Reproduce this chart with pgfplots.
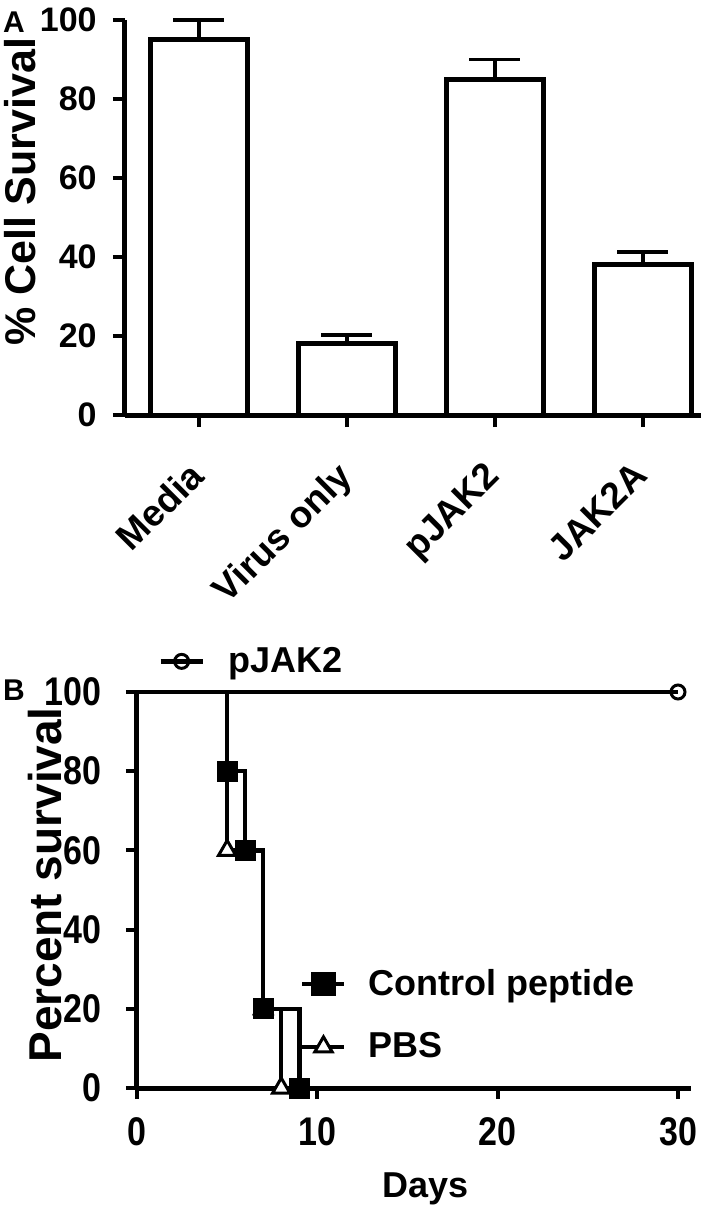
\documentclass[border=0pt]{standalone}
\usepackage{fontspec}
\setmainfont{Liberation Sans}
\newfontfamily\condbold[FakeStretch=0.85, UprightFont={* Bold}]{Liberation Sans}
\usepackage{pgfplots}
\pgfplotsset{compat=1.18}

\pgfplotsset{
  gp/.style={
    scale only axis,
    axis x line=bottom, axis y line=left,
    axis line style={-, line width=2.5pt, black},
    tick align=outside,
    major tick length=6pt,
    tick style={line width=2pt, black},
    /pgf/number format/assume math mode=true,
    clip=false,
  },
}

\begin{document}
\begin{tikzpicture}[x=1pt,y=1pt]
\useasboundingbox (0,0) rectangle (354,-603);

% ---- panel A: bars with upper error bars
\begin{axis}[gp,
  at={(62.5pt,-207.5pt)}, anchor=south west,
  width=288pt, height=197.5pt,
  xmin=-0.5, xmax=3.392, ymin=0, ymax=100,
  ybar, bar width=48.5pt,
  xtick={0,1,2,3},
  xticklabels={Media,Virus only,pJAK2,JAK2A},
  ytick={0,20,40,60,80,100},
  xticklabel style={xshift=-6pt, yshift=-2pt, rotate=45, anchor=north east, inner sep=0pt,
    font=\bfseries\fontsize{18.5}{18.5}\selectfont},
  yticklabel style={inner sep=0pt, font=\bfseries\fontsize{17}{17}\selectfont},
  xticklabel shift=14pt, yticklabel shift=8pt,
  ylabel={\% Cell Survival},
  every axis y label/.style={at={(axis description cs:-0.182,0.565)},
    rotate=90, anchor=center, font=\bfseries\fontsize{21.5}{21.5}\selectfont},
]
\addplot[draw=black, fill=white, line width=2.5pt,
  error bars/.cd, y dir=plus, y explicit,
  error bar style={line width=1.8pt, black},
  error mark options={rotate=90, mark size=12.75pt, line width=1.8pt, black}]
  coordinates {(0,95) +- (0,5) (1,18) +- (0,2.3) (2,85) +- (0,5) (3,38) +- (0,3.2)};
\end{axis}
\node[font=\bfseries\fontsize{15}{15}\selectfont] at (7,-11) {A};

% ---- panel B: survival curves
\begin{axis}[gp,
  at={(68.5pt,-544pt)}, anchor=south west,
  width=277pt, height=198pt,
  xmin=0, xmax=30.72, ymin=0, ymax=100,
  major tick length=5.5pt,
  xtick={0,10,20,30}, ytick={0,20,40,60,80,100},
  ticklabel style={inner sep=0pt, font=\condbold\fontsize{20}{20}\selectfont},
  xticklabel shift=9pt, yticklabel shift=12pt,
  xlabel={Days}, ylabel={Percent survival},
  every axis x label/.style={at={(axis description cs:0.52,-0.255)},
    anchor=center, font=\bfseries\fontsize{18}{18}\selectfont},
  every axis y label/.style={at={(axis description cs:-0.166,0.513)},
    rotate=90, anchor=center, font=\bfseries\fontsize{23}{23}\selectfont},
  legend image code/.code={\draw[mark repeat=2, mark phase=2]
    plot coordinates {(0pt,0pt) (10.5pt,0pt) (21pt,0pt)};},
  legend style={draw=none, fill=none, inner sep=0pt,
    at={(axis description cs:0.294,0.31)}, anchor=north west,
    font=\bfseries\fontsize{18}{18}\selectfont, row sep=13pt,
    /tikz/every odd column/.append style={column sep=9pt}},
  legend cell align=left,
]
% PBS
\addplot[const plot, black, line width=2.2pt, forget plot]
  coordinates {(0,100) (5,60) (7,20) (8,0)};
% Control peptide
\addplot[const plot, black, line width=2.2pt, forget plot]
  coordinates {(0,100) (5,80) (6,60) (7,20) (9,0)};
\addplot[only marks, mark=triangle*, mark size=5pt, mark options={fill=white, draw=black, line width=1.5pt}, forget plot]
  coordinates {(5,60) (7,20) (8,0)};
\addplot[only marks, mark=square*, mark size=5pt, mark options={fill=black, draw=black}, forget plot]
  coordinates {(5,80) (6,60) (7,20) (9,0)};
\addlegendimage{black, line width=2.2pt, mark=square*, mark size=5pt, mark options={fill=black}}
\addlegendentry{Control peptide}
\addlegendimage{black, line width=2.2pt, mark=triangle*, mark size=5pt, mark options={fill=white, line width=1.5pt}}
\addlegendentry{PBS}
\end{axis}

% pJAK2 curve with its own legend above the plot
\begin{axis}[scale only axis, hide axis, clip=false,
  at={(68.5pt,-544pt)}, anchor=south west,
  width=277pt, height=198pt,
  xmin=0, xmax=30.72, ymin=0, ymax=100,
  legend image code/.code={\draw[mark repeat=2, mark phase=2]
    plot coordinates {(0pt,0pt) (10.5pt,0pt) (21pt,0pt)};},
  legend style={draw=none, fill=none, inner sep=0pt,
    at={(axis description cs:0.038,1.124)}, anchor=north west,
    font=\bfseries\fontsize{18}{18}\selectfont,
    /tikz/every odd column/.append style={column sep=10pt}},
]
\addplot[black, line width=2.2pt, mark=o, mark size=3.5pt, mark indices={2},
  mark options={line width=1.5pt}]
  coordinates {(0,100) (30,100)};
\addlegendentry{pJAK2}
\end{axis}
\node[font=\bfseries\fontsize{15}{15}\selectfont] at (7,-345) {B};
\end{tikzpicture}
\end{document}
